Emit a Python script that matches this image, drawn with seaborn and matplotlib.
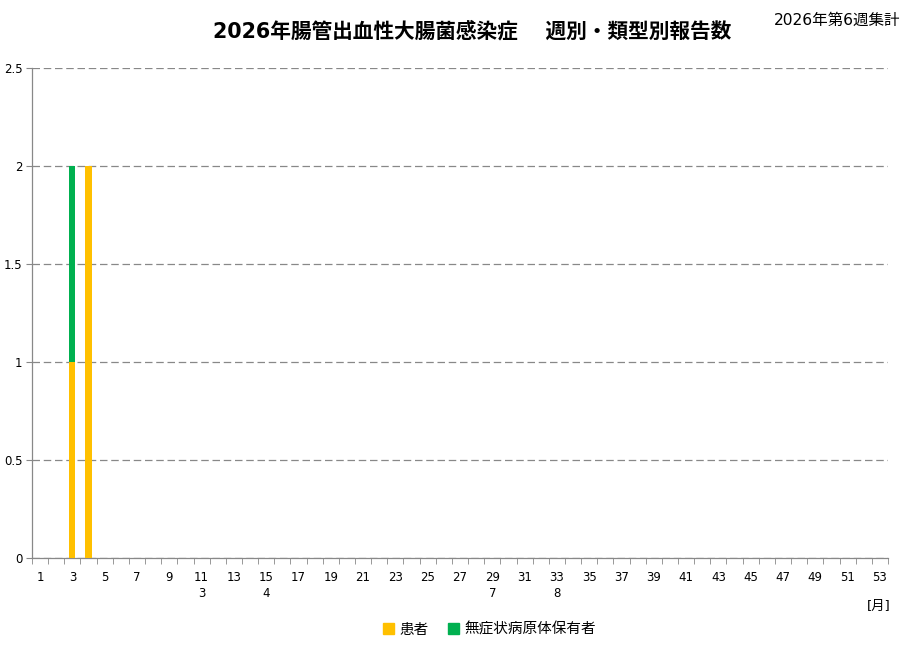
import numpy as np
import pandas as pd
import matplotlib
matplotlib.use("Agg")
import matplotlib.pyplot as plt
from matplotlib.patches import Patch
import seaborn as sns

# 週別・類型別の報告数
weeks = list(range(1, 54))
kanja = [0, 0, 1, 2] + [0] * 49          # 患者
mushojo = [0, 0, 1, 0] + [0] * 49        # 無症状病原体保有者
# 月の区切り（週番号: 月）
month_marks = {11: "3", 15: "4", 29: "7", 33: "8"}

df = pd.DataFrame({"week": [str(w) for w in weeks], "患者": kanja, "無症状病原体保有者": mushojo})
df["total"] = df["患者"] + df["無症状病原体保有者"]

sns.set_style("white")
plt.rcParams['font.family'] = ['DejaVu Sans', 'Noto Sans CJK JP']
plt.rcParams['text.color'] = 'black'
plt.rcParams['xtick.color'] = '#888888'
plt.rcParams['ytick.color'] = '#888888'
plt.rcParams['xtick.labelcolor'] = 'black'
plt.rcParams['ytick.labelcolor'] = 'black'

fig = plt.figure(figsize=(9.1, 6.61), dpi=100)
ax = fig.add_axes([0.0352, 0.1558, 0.9406, 0.7413])

order = df["week"].tolist()
sns.barplot(data=df, x="week", y="total", order=order, color="#00B050", width=0.38,
            saturation=1, linewidth=0, ax=ax, zorder=3)
sns.barplot(data=df, x="week", y="患者", order=order, color="#FFC000", width=0.38,
            saturation=1, linewidth=0, ax=ax, zorder=4)

ax.set_xlim(-0.5, 52.5)
ax.set_ylim(0, 2.5)
ax.set_yticks([0, 0.5, 1, 1.5, 2, 2.5])
ax.set_yticklabels(["0", "0.5", "1", "1.5", "2", "2.5"], fontsize=8.5)
ax.yaxis.grid(True, linestyle=(0, (6, 3)), color="#888888", linewidth=0.9)
ax.set_axisbelow(True)

labels = []
for w in weeks:
    if w % 2 == 1:
        lab = str(w)
        if w in month_marks:
            lab += "\n" + month_marks[w]
    else:
        lab = ""
    labels.append(lab)
ax.set_xticks(range(len(weeks)))
ax.set_xticklabels(labels, fontsize=8.5, linespacing=1.35, va="top")
ax.set_xticks(np.arange(-0.5, 53, 1), minor=True)
ax.tick_params(axis="x", which="major", bottom=False, length=0, pad=9)
ax.tick_params(axis="x", which="minor", bottom=True, length=4, color="#888888", direction="out")
ax.tick_params(axis="y", left=True, length=4, color="#888888", direction="out", pad=3)
ax.set_xlabel("")
ax.set_ylabel("")

for s in ["top", "right"]:
    ax.spines[s].set_visible(False)
for s in ["left", "bottom"]:
    ax.spines[s].set_color("#888888")
    ax.spines[s].set_linewidth(0.9)

fig.text(0.519, 0.952, "2026年腸管出血性大腸菌感染症　 週別・類型別報告数",
         ha="center", va="center", fontsize=14.9, fontweight="bold", color="black",
         family=['DejaVu Sans', 'Noto Sans CJK JP'])
fig.text(0.989, 0.970, "2026年第6週集計", ha="right", va="center", fontsize=11.2,
         family=['DejaVu Sans', 'Noto Sans CJK JP'])
fig.text(0.979, 0.083, "[月]", ha="right", va="center", fontsize=9.5,
         family=['DejaVu Sans', 'Noto Sans CJK JP'])

handles = [Patch(color="#FFC000", label="患者"), Patch(color="#00B050", label="無症状病原体保有者")]
fig.legend(handles=handles, loc="center", bbox_to_anchor=(0.538, 0.048), ncol=2, frameon=False,
           fontsize=10.5, handlelength=0.75, handleheight=0.75, handletextpad=0.4, columnspacing=1.3)

fig.savefig("out.png", dpi=100)
